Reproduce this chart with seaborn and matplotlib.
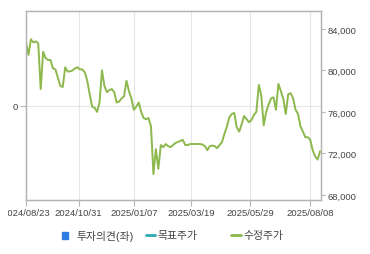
import numpy as np
import pandas as pd
import matplotlib
matplotlib.use("Agg")
import matplotlib.pyplot as plt
from matplotlib.lines import Line2D
from matplotlib.patches import Patch
from matplotlib.transforms import Bbox
import seaborn as sns

# ---- data (trading-day index, adjusted price) ----
day_index = list(range(0, 241, 2))
adj_price = [
    82700, 81500, 83000, 82700, 82800, 82600, 78200, 81800, 81200, 81000,
    81000, 80200, 80100, 79300, 78500, 78400, 80300, 79900, 79900, 80000,
    80200, 80300, 80100, 80100, 79800, 79000, 77700, 76500, 76400, 76000,
    76900, 80000, 78500, 77900, 78100, 78200, 77900, 76900, 77000, 77300,
    77500, 79000, 78000, 77300, 76200, 76500, 76900, 76000, 75400, 75300,
    75400, 74600, 70000, 72400, 70500, 72800, 72600, 72900, 72700, 72600,
    72800, 73000, 73100, 73200, 73300, 72800, 72800, 72900, 72900, 72900,
    72900, 72900, 72850, 72700, 72300, 72700, 72750, 72700, 72500, 72800,
    73100, 73900, 74600, 75500, 75800, 75900, 74500, 74100, 74800, 75600,
    75300, 75000, 75200, 75700, 76000, 78600, 77600, 74700, 76000, 76700,
    77300, 77400, 76200, 78700, 78000, 77250, 75800, 77700, 77800, 77300,
    76200, 75800, 74600, 74100, 73550, 73560, 73300, 72300, 71700, 71400,
    72200,
]
tick_days = [0, 43, 88, 135, 183, 232]
tick_labels = ["2024/08/23", "2024/10/31", "2025/01/07", "2025/03/19",
               "2025/05/29", "2025/08/08"]
price_ticks = [68000, 72000, 76000, 80000, 84000]
opinion_ticks = [0]
legend_labels = ["투자의견(좌)", "목표주가", "수정주가"]

df = pd.DataFrame({"day": day_index, "price": adj_price})

sns.set_theme(style="white")
plt.rcParams["font.family"] = ["Liberation Sans", "Noto Sans CJK KR"]

GREEN = "#8cb84c"
TEAL = "#2aa9b5"
BLUE = "#2c7be0"
SPINE = "#b4b4b4"
GRID = "#e6e6e6"
TXT = "#444444"

fig = plt.figure(figsize=(3.70, 2.55), dpi=100)
ax = fig.add_axes([26 / 370, 1 - 201 / 255, (321.3 - 26) / 370, (201 - 12.3) / 255])
ax2 = ax.twinx()

# left axis (investment opinion) - no data, only the 0 line
ax.set_ylim(-1, 1)
ax.set_yticks(opinion_ticks)
ax.set_yticklabels([str(v) for v in opinion_ticks])
ax.set_xlim(0, 241)
ax.set_xticks(tick_days)
ax.set_xticklabels(tick_labels)
ax.grid(True, color=GRID, linewidth=0.8)
ax.set_axisbelow(True)

sns.lineplot(data=df, x="day", y="price", ax=ax2, color=GREEN,
             linewidth=1.4, legend=False)
ax2.set_ylim(67500, 85700)
ax2.set_yticks(price_ticks)
ax2.set_yticklabels([f"{v:,}" for v in price_ticks])
ax2.set_xlim(0, 241)
ax2.set_xlabel("")
ax2.set_ylabel("")
ax.set_xlabel("")
ax.set_ylabel("")
ax2.grid(False)

for a in (ax, ax2):
    for s in a.spines.values():
        s.set_color(SPINE)
        s.set_linewidth(0.9)
ax.tick_params(axis="x", length=4, width=0.8, color=SPINE, labelsize=6.8,
               labelcolor=TXT, pad=2, bottom=True)
ax.tick_params(axis="y", length=4, width=0.8, color=SPINE, labelsize=6.8,
               labelcolor=TXT, pad=2, left=True)
ax2.tick_params(axis="y", length=3, width=0.8, color=SPINE, labelsize=6.8,
                labelcolor=TXT, pad=1.5, right=True)

# clip the first date label at the figure's left margin like the original
first = ax.get_xticklabels()[0]
first.set_clip_box(Bbox([[7.6, 0], [370, 255]]))
first.set_clip_on(True)

# legend entries
ly = 1 - 236.5 / 255
common = dict(frameon=False, fontsize=7.8, borderpad=0, borderaxespad=0,
              labelcolor=TXT, loc="center left")
fig.legend(handles=[Patch(facecolor=BLUE, edgecolor=BLUE)],
           labels=[legend_labels[0]], bbox_to_anchor=(61.7 / 370, ly),
           handlelength=0.6, handleheight=0.6, handletextpad=0.8, **common)
fig.legend(handles=[Line2D([], [], color=TEAL, linewidth=2)],
           labels=[legend_labels[1]], bbox_to_anchor=(145.7 / 370, ly),
           handlelength=0.86, handletextpad=0.25, **common)
fig.legend(handles=[Line2D([], [], color=GREEN, linewidth=2)],
           labels=[legend_labels[2]], bbox_to_anchor=(231 / 370, ly),
           handlelength=0.9, handletextpad=0.28, **common)

fig.savefig("out.png", dpi=100)
